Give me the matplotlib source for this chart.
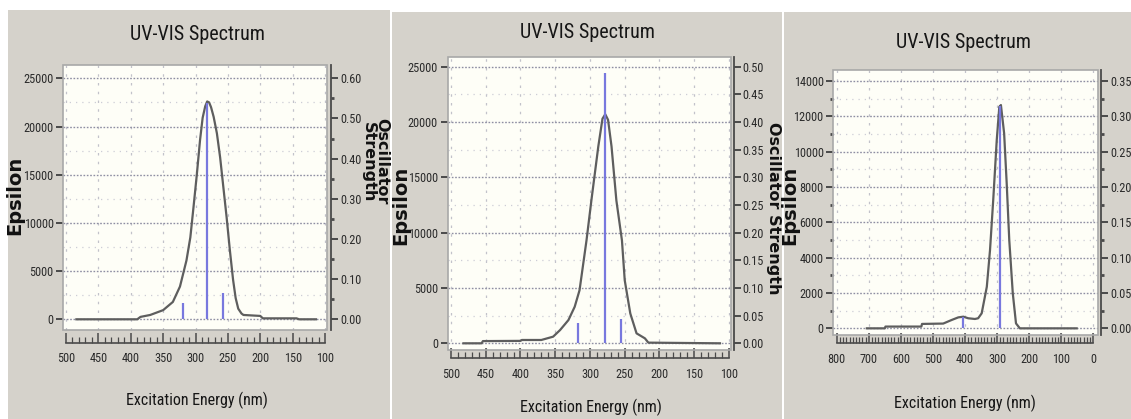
import matplotlib
matplotlib.use('Agg')
import matplotlib.pyplot as plt
from matplotlib import font_manager
from matplotlib.patches import Rectangle
from matplotlib.ticker import FormatStrFormatter

W, H = 1131, 419


def pick_narrow():
    ents = font_manager.fontManager.ttflist
    names = {e.name for e in ents}
    for nm in ['Liberation Sans Narrow', 'Arial Narrow', 'Roboto Condensed',
               'Open Sans Condensed', 'Noto Sans Condensed']:
        if nm in names:
            return nm, 'normal', True
    for pref in ['Roboto', 'DejaVu Sans', 'Noto Sans', 'Open Sans']:
        for e in ents:
            fn = e.fname.replace('\\', '/').split('/')[-1]
            if e.name == pref and ('Condensed' in fn or 'Narrow' in fn) \
                    and 'Bold' not in fn and 'Oblique' not in fn and 'Italic' not in fn:
                return pref, 'condensed', pref == 'Roboto'
    return 'DejaVu Sans', 'normal', False


NFAM, NSTRETCH, SLIM = pick_narrow()
plt.rcParams['font.family'] = [NFAM, 'DejaVu Sans']
plt.rcParams['font.stretch'] = NSTRETCH
if NFAM == 'Liberation Sans Narrow' or SLIM:
    FS_TITLE, FS_XL, FS_TICK = 14.5, 11.5, 8.8
elif NSTRETCH == 'condensed':
    FS_TITLE, FS_XL, FS_TICK = 13, 10.5, 8
else:
    FS_TITLE, FS_XL, FS_TICK = 12, 9.5, 7

# ---------------- data ----------------
title = "UV-VIS Spectrum"
xlabel = "Excitation Energy (nm)"
ylabel = "Epsilon"
y2label = "Oscillator Strength"

# panel 1
wl1 = [484, 390, 385, 370, 350, 335, 324, 314, 308, 303, 298, 293, 289, 285, 282, 279, 276,
       272, 267, 262, 257, 252, 247, 242, 238, 234, 229, 226, 200, 196, 144, 140, 114]
eps1 = [0, 0, 250, 450, 950, 1800, 3400, 6100, 8500, 11700, 15000, 18600, 20900, 22100, 22600, 22500, 22000,
        21000, 19300, 16800, 13700, 10600, 7200, 4100, 2200, 1100, 600, 450, 350, 100, 100, 0, 0]
stick_wl1 = [320, 283, 257]
stick_f1 = [0.040, 0.538, 0.065]

# panel 2
wl2 = [482, 456, 454, 400, 398, 370, 353, 343, 331, 322, 315, 305, 298, 288, 282, 278,
       274, 269, 262, 254, 250, 242, 233, 221, 216, 113]
eps2 = [0, 0, 200, 220, 300, 300, 600, 1200, 2100, 3300, 4800, 9300, 12900, 17800, 20300, 20700,
        20200, 17800, 12900, 9300, 5700, 2700, 900, 450, 60, 0]
stick_wl2 = [317, 278, 256]
stick_f2 = [0.037, 0.488, 0.044]

# panel 3
wl3 = [706, 650, 648, 536, 534, 468, 442, 421, 405, 390, 369, 359, 348, 332, 322, 312,
       301, 293, 288, 278, 270, 262, 251, 241, 229, 52]
eps3 = [0, 0, 100, 100, 250, 270, 470, 620, 660, 570, 530, 570, 850, 2350, 4430, 7260,
        10660, 12540, 12640, 11040, 8210, 5000, 1980, 280, 0, 0]
stick_wl3 = [405, 291]
stick_f3 = [0.0165, 0.314]

x_major = [list(range(500, 99, -50)), list(range(500, 99, -50)), list(range(800, -1, -100))]
x_minor = [list(range(500, 99, -10)), list(range(500, 99, -10)), list(range(800, -1, -10))]
y_major = [list(range(0, 25001, 5000)), list(range(0, 25001, 5000)), list(range(0, 14001, 2000))]
y_minor = [list(range(0, 25001, 2500)), list(range(0, 25001, 2500)), list(range(0, 14001, 1000))]
y2_major = [[i * 0.10 for i in range(7)], [i * 0.05 for i in range(11)], [i * 0.05 for i in range(8)]]
y2_minor = [[i * 0.05 for i in range(13)], [], [i * 0.025 for i in range(15)]]

# ---------------- layout ----------------
GRAY = '#d5d2cb'
fig = plt.figure(figsize=(W / 100, H / 100), dpi=100)
fig.patch.set_facecolor('white')


def frect(x0, y0, x1, y1, **kw):
    r = Rectangle((x0 / W, 1 - y1 / H), (x1 - x0) / W, (y1 - y0) / H,
                  transform=fig.transFigure, zorder=-10, **kw)
    fig.patches.append(r)


frect(8, 10, 390, 419, facecolor=GRAY, edgecolor='none')
frect(392, 12, 782, 419, facecolor=GRAY, edgecolor='none')
frect(784, 12, 1131, 419, facecolor=GRAY, edgecolor='none')

panels = [
    dict(frame=(63.3, 65, 326.7, 330), xlim=(504.2, 97.4), ylim=(-1110, 26380), k=2.4e-5,
         wl=wl1, eps=eps1, swl=stick_wl1, sf=stick_f1, ymin_len=0,
         title=(198, 34), xl=(197, 400), yl=(15, 195), bottom_off=9, right_off=3),
    dict(frame=(447.7, 56.7, 731, 350), xlim=(504.7, 97.1), ylim=(-605, 25904), k=2.0e-5,
         wl=wl2, eps=eps2, swl=stick_wl2, sf=stick_f2, ymin_len=0,
         title=(587, 33), xl=(591, 407), yl=(401, 205), bottom_off=6, right_off=2),
    dict(frame=(833.3, 70, 1098.3, 335), xlim=(810.6, -15.6), ylim=(-377, 14623), k=2.5e-5,
         wl=wl3, eps=eps3, swl=stick_wl3, sf=stick_f3, ymin_len=2.5,
         title=(963, 43), xl=(965, 403), yl=(790, 205), bottom_off=6, right_off=2),
]

DARK = '#4a4a4a'
TXT = '#2a2a2a'
for i, p in enumerate(panels):
    x0, y0, x1, y1 = p['frame']
    ax = fig.add_axes([x0 / W, 1 - y1 / H, (x1 - x0) / W, (y1 - y0) / H])
    ax.set_facecolor('#fefef7')
    ax.set_xlim(*p['xlim'])
    ax.set_ylim(*p['ylim'])
    for s in ['top', 'left', 'right']:
        ax.spines[s].set_visible(False)
    ax.add_patch(Rectangle((0, 0), 1, 1, transform=ax.transAxes, fill=False,
                           edgecolor='#a8a8a8', lw=1.2, zorder=5, clip_on=False))
    ax.spines['bottom'].set_position(('outward', p['bottom_off']))
    ax.spines['bottom'].set_color(DARK)
    ax.spines['bottom'].set_linewidth(1.2)
    ax.spines['bottom'].set_bounds(x_major[i][0], x_major[i][-1])

    ax.set_xticks(x_major[i])
    ax.set_xticks(x_minor[i], minor=True)
    ax.set_yticks(y_major[i])
    ax.set_yticks(y_minor[i], minor=True)
    ax.set_axisbelow(True)
    ax.xaxis.grid(True, which='major', color='#c2c2ca', ls=(0, (2, 5)), lw=0.9)
    ax.yaxis.grid(True, which='major', color='#8e8ea2', ls=(0, (1.2, 1.2)), lw=1.0)
    ax.yaxis.grid(True, which='minor', color='#cdcdd6', ls=(0, (1, 4)), lw=0.9)

    ax.tick_params(axis='x', which='major', direction='in', length=7, width=1.1,
                   color=DARK, pad=7, labelsize=FS_TICK, labelcolor=TXT)
    ax.tick_params(axis='x', which='minor', direction='in', length=4, width=0.9, color=DARK)
    ax.tick_params(axis='y', which='major', direction='out', length=5, width=1.4,
                   color=DARK, pad=2, labelsize=FS_TICK, labelcolor=TXT)
    ax.tick_params(axis='y', which='minor', direction='out', length=p['ymin_len'], width=2.0, color=DARK)

    ax.plot(p['wl'], p['eps'], color='#5e5e5e', lw=1.6, zorder=3)

    ax2 = ax.twinx()
    ax2.set_ylim(p['ylim'][0] * p['k'], p['ylim'][1] * p['k'])
    for s in ['top', 'left', 'bottom']:
        ax2.spines[s].set_visible(False)
    ax2.spines['right'].set_position(('outward', p['right_off']))
    ax2.spines['right'].set_color(DARK)
    ax2.spines['right'].set_linewidth(1.3)
    ax2.set_yticks(y2_major[i])
    ax2.set_yticks(y2_minor[i], minor=True)
    ax2.yaxis.set_major_formatter(FormatStrFormatter('%.2f'))
    ax2.tick_params(axis='y', which='major', direction='out', length=5, width=1.4,
                    color=DARK, pad=1.5, labelsize=FS_TICK, labelcolor=TXT)
    ax2.tick_params(axis='y', which='minor', direction='out', length=2.5, width=2.0, color=DARK)
    ax2.vlines(p['swl'], 0, p['sf'], color='#7878de', lw=1.6, zorder=2)

    tx, ty = p['title']
    fig.text(tx / W, 1 - ty / H, title, ha='center', va='center', fontsize=FS_TITLE, color='#161616')
    lx, ly = p['xl']
    fig.text(lx / W, 1 - ly / H, xlabel, ha='center', va='center', fontsize=FS_XL, color='#161616')
    ex, ey = p['yl']
    fig.text(ex / W, 1 - ey / H, ylabel, ha='center', va='center', rotation=90,
             fontsize=14, fontweight='bold', family='DejaVu Sans', stretch='normal', color='#111111')

# right-hand labels (rotated, reading top to bottom)
BOLDKW = dict(ha='center', va='center', rotation=270, fontsize=11.5, fontweight='bold',
              family='DejaVu Sans', stretch='normal', color='#111111')
fig.text(382 / W, 1 - 161 / H, "Oscillator", **BOLDKW)
fig.text(368 / W, 1 - 162 / H, "Strength", **BOLDKW)
fig.text(773 / W, 1 - 208 / H, y2label, **BOLDKW)
fig.text(1137 / W, 1 - 210 / H, y2label, **BOLDKW)

fig.savefig('out.png', dpi=100, facecolor='white')
